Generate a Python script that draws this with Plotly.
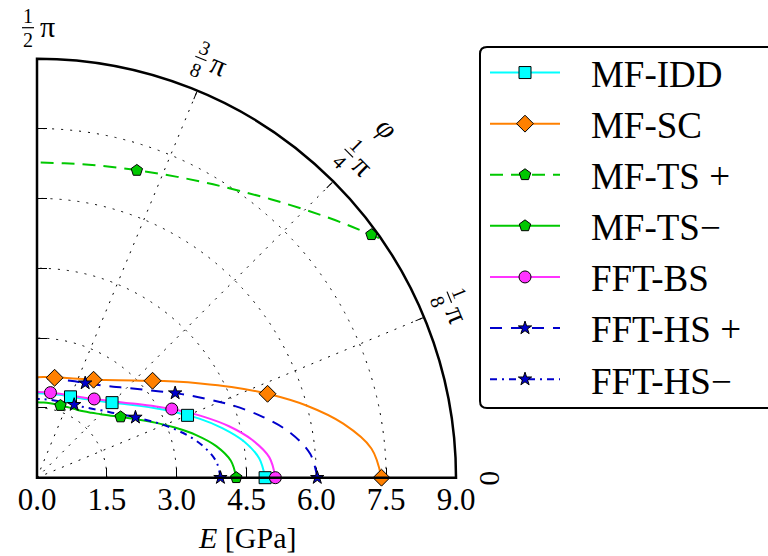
import numpy as np
import plotly.graph_objects as go

# ---------------------------------------------------------------
# Directional Young's modulus E(phi) of the composite, in GPa
# ---------------------------------------------------------------
phi = [0, 5, 10, 15, 20, 25, 30, 35, 40, 45, 50, 55, 60, 65, 70, 75, 80, 85, 90]

mf_idd = [4.90, 4.79, 4.51, 4.12, 3.71, 3.31, 2.97, 2.69, 2.46, 2.28,
          2.14, 2.04, 1.96, 1.905, 1.867, 1.842, 1.826, 1.817, 1.815]
mf_sc = [7.40, 7.21, 6.68, 5.99, 5.27, 4.61, 4.05, 3.60, 3.24, 2.95,
         2.73, 2.56, 2.43, 2.34, 2.27, 2.22, 2.18, 2.17, 2.16]
mf_ts_minus = [4.28, 4.18, 3.91, 3.54, 3.15, 2.80, 2.50, 2.26, 2.07, 1.93,
               1.82, 1.74, 1.69, 1.66, 1.64, 1.627, 1.622, 1.621, 1.621]
fft_bs = [5.12, 5.01, 4.69, 4.27, 3.82, 3.40, 3.04, 2.74, 2.50, 2.32,
          2.18, 2.07, 1.99, 1.93, 1.89, 1.867, 1.852, 1.843, 1.841]
fft_hs_plus = [6.02, 5.89, 5.53, 5.03, 4.51, 4.01, 3.59, 3.23, 2.95, 2.73,
               2.55, 2.42, 2.33, 2.26, 2.21, 2.17, 2.15, 2.14, 2.134]
fft_hs_minus = [3.94, 3.87, 3.67, 3.40, 3.10, 2.81, 2.55, 2.34, 2.16, 2.03,
                1.92, 1.84, 1.78, 1.745, 1.72, 1.704, 1.695, 1.691, 1.690]

# the upper TS bound leaves the 9 GPa frame below ~35 deg
phi_ts_plus = [35, 40, 45, 50, 55, 60, 65, 70, 75, 80, 85, 90]
mf_ts_plus = [8.97, 8.53, 8.14, 7.81, 7.53, 7.31, 7.13, 6.99, 6.89, 6.82, 6.78, 6.77]

# marker positions along each curve
idd_mk_phi, idd_mk_E = [0, 22.5, 45, 67.5], [4.90, 3.50, 2.28, 1.88]
sc_mk_phi, sc_mk_E = [0, 20, 40, 60, 80], [7.40, 5.27, 3.24, 2.43, 2.18]
tsp_mk_phi, tsp_mk_E = [36, 72], [8.88, 6.94]
tsm_mk_phi, tsm_mk_E = [0, 36, 72], [4.28, 2.22, 1.63]
bs_mk_phi, bs_mk_E = [0, 27, 54, 81], [5.12, 3.25, 2.09, 1.85]
hsp_mk_phi, hsp_mk_E = [0, 31.5, 63], [6.02, 3.48, 2.28]
hsm_mk_phi, hsm_mk_E = [0, 31.5, 63], [3.94, 2.48, 1.76]

radial_ticks = [0.0, 1.5, 3.0, 4.5, 6.0, 7.5, 9.0]
angle_ticks = [22.5, 45, 67.5]

series = [
    # name, curve phi, curve E, marker phi, marker E, colour, dash, symbol, size
    ("MF-IDD", phi, mf_idd, idd_mk_phi, idd_mk_E, "#00ffff", "solid", "square", 12),
    ("MF-SC", phi, mf_sc, sc_mk_phi, sc_mk_E, "#ff8000", "solid", "diamond", 13),
    ("MF-TS +", phi_ts_plus, mf_ts_plus, tsp_mk_phi, tsp_mk_E, "#00c800", "13px,8px", "pentagon", 12),
    ("MF-TS\u2212", phi, mf_ts_minus, tsm_mk_phi, tsm_mk_E, "#00c800", "solid", "pentagon", 12),
    ("FFT-BS", phi, fft_bs, bs_mk_phi, bs_mk_E, "#ff33ff", "solid", "circle", 12),
    ("FFT-HS +", phi, fft_hs_plus, hsp_mk_phi, hsp_mk_E, "#0000cc", "12px,9px", "star", 10),
    ("FFT-HS\u2212", phi, fft_hs_minus, hsm_mk_phi, hsm_mk_E, "#0000cc", "7px,5px,2px,5px", "star", 10),
]

SERIF = "Liberation Serif, Times New Roman, serif"
W, H = 768, 556
ox, oy, R = 37.0, 477.7, 419.0        # pixel origin and radius of the quarter disc
LEGEND_PAD = "\u2002\u2009"            # gap between legend symbol and label

fig = go.Figure()

for name, cp, ce, mp, me, col, dash, sym, size in series:
    fig.add_trace(go.Scatterpolar(
        r=ce, theta=cp, mode="lines", line=dict(color=col, width=2, dash=dash, shape="spline"),
        showlegend=False, hoverinfo="skip"))
for name, cp, ce, mp, me, col, dash, sym, size in series:
    fig.add_trace(go.Scatterpolar(
        r=me, theta=mp, mode="markers",
        marker=dict(symbol=sym, size=size, color=col, line=dict(color="black", width=1)),
        showlegend=False, name=name))
for name, cp, ce, mp, me, col, dash, sym, size in series:
    fig.add_trace(go.Scatterpolar(
        r=[None], theta=[None], mode="lines+markers", name=LEGEND_PAD + name,
        line=dict(color=col, width=2, dash=dash),
        marker=dict(symbol=sym, size=size, color=col, line=dict(color="black", width=1))))

# empty cartesian trace: the x/y axes provide the E scale and the edge ticks
fig.add_trace(go.Scatter(x=[None], y=[None], showlegend=False, hoverinfo="skip"))

dom_x = [ox / W, (ox + R) / W]
dom_y = [1 - oy / H, 1 - (oy - R) / H]
grid_dash = "2px,7px"

fig.update_layout(
    width=W, height=H,
    margin=dict(l=0, r=0, t=0, b=0, autoexpand=False),
    paper_bgcolor="white",
    plot_bgcolor="rgba(0,0,0,0)",
    font=dict(family=SERIF, color="black"),
    polar=dict(
        domain=dict(x=dom_x, y=dom_y),
        sector=[0, 90],
        bgcolor="rgba(0,0,0,0)",
        radialaxis=dict(
            range=[0, 9], tickvals=radial_ticks, showticklabels=False, ticks="",
            showline=False,
            gridcolor="black", gridwidth=1, griddash=grid_dash,
            angle=0,
        ),
        angularaxis=dict(
            thetaunit="degrees", direction="counterclockwise", rotation=0,
            tickvals=angle_ticks, showticklabels=False,
            ticks="inside", ticklen=8, tickwidth=1.3, tickcolor="black",
            showline=True, linecolor="black", linewidth=2.5,
            gridcolor="black", gridwidth=1, griddash=grid_dash,
        ),
    ),
    xaxis=dict(
        domain=dom_x, range=[0, 9], anchor="y",
        tickvals=radial_ticks, tickformat=".1f",
        ticks="inside", ticklen=10, tickwidth=1.3, tickcolor="black",
        showline=False, showgrid=False, zeroline=False, automargin=False,
        tickfont=dict(family=SERIF, size=31, color="black"),
        fixedrange=True,
    ),
    yaxis=dict(
        domain=dom_y, range=[0, 9], anchor="x",
        tickvals=radial_ticks[1:-1], showticklabels=False,
        ticks="inside", ticklen=10, tickwidth=1.3, tickcolor="black",
        showline=False, showgrid=False, zeroline=False, automargin=False,
        fixedrange=True,
    ),
    legend=dict(
        x=485 / W, y=1 - 42 / H, xanchor="left", yanchor="top",
        borderwidth=0, bgcolor="rgba(0,0,0,0)",
        font=dict(family=SERIF, size=37, color="black"),
        itemwidth=70, tracegroupgap=0,
    ),
    showlegend=True,
)


def to_paper(px, py):
    return px / W, 1 - py / H


annotations = []
shapes = []


def add_text(text, px, py, size, angle=0):
    x, y = to_paper(px, py)
    annotations.append(dict(
        text=text, x=x, y=y, xref="paper", yref="paper", showarrow=False,
        xanchor="center", yanchor="middle", textangle=angle,
        font=dict(family=SERIF, size=size, color="black")))


def fraction_label(num, den, theta, rho=450.0):
    t = np.radians(theta)
    cx, cy = ox + rho * np.cos(t), oy - rho * np.sin(t)
    rot = 90.0 - theta
    a = np.radians(rot)
    ux, uy = np.cos(a), np.sin(a)
    vx, vy = -np.sin(a), np.cos(a)

    def at(lx, ly):
        return cx + lx * ux + ly * vx, cy + lx * uy + ly * vy

    add_text(num, *at(-9, -11.5), 20, rot)
    add_text(den, *at(-9, 12.0), 20, rot)
    add_text("\u03c0", *at(10, -1), 30, rot)
    x0, y0 = to_paper(*at(-15, 0))
    x1, y1 = to_paper(*at(-3, 0))
    shapes.append(dict(type="line", xref="paper", yref="paper", x0=x0, y0=y0, x1=x1, y1=y1,
                       line=dict(color="black", width=1.2)))


fraction_label("1", "2", 90)
fraction_label("3", "8", 67.5)
fraction_label("1", "4", 45)
fraction_label("1", "8", 22.5)
add_text("0", ox + 453, oy, 30, 90)
add_text("<i>\u03c6</i>", ox + 495 * np.cos(np.radians(45)), oy - 495 * np.sin(np.radians(45)), 30, 45)
add_text("<i>E</i> [GPa]", ox + R / 2, 537, 30)

# rounded frame around the legend (it runs off the right edge of the figure)
bx0, by0, bx1, by1, rc = 480.0, 47.0, 800.0, 408.0, 7.0


def P(px, py):
    x, y = to_paper(px, py)
    return f"{x:.5f},{y:.5f}"


frame_path = (
    f"M {P(bx0 + rc, by0)} L {P(bx1 - rc, by0)} Q {P(bx1, by0)} {P(bx1, by0 + rc)} "
    f"L {P(bx1, by1 - rc)} Q {P(bx1, by1)} {P(bx1 - rc, by1)} "
    f"L {P(bx0 + rc, by1)} Q {P(bx0, by1)} {P(bx0, by1 - rc)} "
    f"L {P(bx0, by0 + rc)} Q {P(bx0, by0)} {P(bx0 + rc, by0)} Z"
)
shapes.append(dict(type="path", xref="paper", yref="paper", path=frame_path,
                   line=dict(color="black", width=2), fillcolor="rgba(0,0,0,0)"))

fig.update_layout(annotations=annotations, shapes=shapes)

fig.write_html("out.html")
